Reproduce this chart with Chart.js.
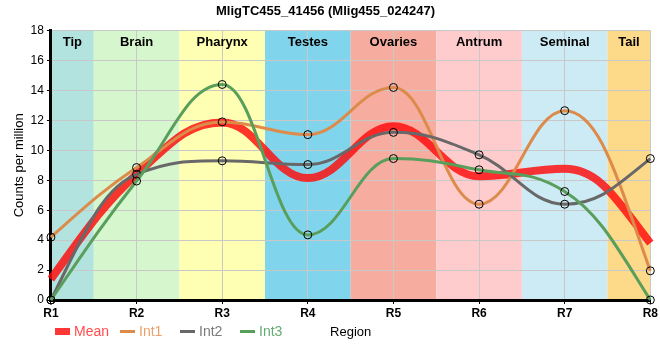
<!DOCTYPE html>
<html>
<head>
<meta charset="utf-8">
<script src="https://cdn.jsdelivr.net/npm/chart.js@4/dist/chart.umd.min.js"></script>
<style>
html,body{margin:0;padding:0;background:#fff;}
#wrap{position:relative;width:660px;height:360px;}
#legend{position:absolute;left:0;top:0;width:660px;height:360px;pointer-events:none;font-family:"Liberation Sans",Arial,sans-serif;font-size:14px;}
.it{position:absolute;top:322px;height:18px;display:flex;align-items:center;white-space:nowrap;}
.sw{display:inline-block;width:15px;margin-right:4px;}
</style>
</head>
<body>
<div id="wrap">
<canvas id="c" width="660" height="360"></canvas>
<div id="legend"></div>
</div>
<script>
const titleText = "MligTC455_41456 (Mlig455_024247)";
const xTitle = "Region";
const yTitle = "Counts per million";
const regions = ["R1","R2","R3","R4","R5","R6","R7","R8"];
const bandNames = ["Tip","Brain","Pharynx","Testes","Ovaries","Antrum","Seminal","Tail"];
const bandStart = [0, 0.5, 1.5, 2.5, 3.5, 4.5, 5.5, 6.5];
const bandEnd   = [0.5, 1.5, 2.5, 3.5, 4.5, 5.5, 6.5, 7];
const int1 = [4.2, 8.85, 11.9, 11.05, 14.2, 6.4, 12.65, 1.95];
const int2 = [0, 8.4, 9.3, 9.05, 11.2, 9.7, 6.4, 9.45];
const int3 = [0, 7.95, 14.4, 4.35, 9.45, 8.7, 7.25, 0];
const meanVals = int1.map((v,i)=> (v + int2[i] + int3[i]) / 3);
const yTicks = [0,2,4,6,8,10,12,14,16,18];

const bandColors = ["#b3e3df","#d6f6cd","#ffffb3","#80d5ec","#f6ac9f","#ffccce","#cdebf4","#fdd98a"];
const FONT = "'Liberation Sans', Arial, sans-serif";

const bandsPlugin = {
  id: 'bands',
  beforeDraw(chart) {
    const {ctx, chartArea, scales} = chart;
    ctx.save();
    for (let i = 0; i < bandNames.length; i++) {
      const x0 = scales.x.getPixelForValue(bandStart[i]);
      const x1 = scales.x.getPixelForValue(bandEnd[i]);
      ctx.fillStyle = bandColors[i];
      ctx.fillRect(x0, chartArea.top, x1 - x0, chartArea.bottom - chartArea.top);
    }
    ctx.restore();
  },
  beforeDatasetsDraw(chart) {
    const {ctx, chartArea, scales} = chart;
    ctx.save();
    ctx.fillStyle = "#000";
    ctx.font = "bold 13px " + FONT;
    ctx.textAlign = "center";
    ctx.textBaseline = "middle";
    for (let i = 0; i < bandNames.length; i++) {
      const x0 = scales.x.getPixelForValue(bandStart[i]);
      const x1 = scales.x.getPixelForValue(bandEnd[i]);
      ctx.fillText(bandNames[i], (x0 + x1) / 2, chartArea.top + 12);
    }
    ctx.restore();
  }
};

// Spline control points (smoothing 1.5, false-extreme prevention, Hermite-style ends)
const splinePlugin = {
  id: 'spline',
  beforeDatasetsDraw(chart) {
    chart.data.datasets.forEach((ds, di) => {
      const meta = chart.getDatasetMeta(di);
      if (!meta.dataset) return;
      meta.dataset.updateControlPoints(chart.chartArea, 'x');
      const pts = meta.data;
      const n = pts.length;
      const sm = 1.5, den = sm + 1, k = 1 / den;
      for (let i = 0; i < n; i++) {
        const p = pts[i];
        p.cp1x = p.x; p.cp1y = p.y; p.cp2x = p.x; p.cp2y = p.y;
        if (i === 0 || i === n - 1) continue;
        const l = pts[i-1], r = pts[i+1];
        let lx = (sm * p.x + l.x) / den, ly = (sm * p.y + l.y) / den;
        let rx = (sm * p.x + r.x) / den, ry = (sm * p.y + r.y) / den;
        let corr = 0;
        if (rx !== lx) corr = ((ry - ly) * (rx - p.x)) / (rx - lx) + p.y - ry;
        ly += corr; ry += corr;
        if (ly > l.y && ly > p.y) { ly = Math.max(l.y, p.y); ry = 2 * p.y - ly; }
        else if (ly < l.y && ly < p.y) { ly = Math.min(l.y, p.y); ry = 2 * p.y - ly; }
        if (ry > r.y && ry > p.y) { ry = Math.max(r.y, p.y); ly = 2 * p.y - ry; }
        else if (ry < r.y && ry < p.y) { ry = Math.min(r.y, p.y); ly = 2 * p.y - ry; }
        p.cp1x = lx; p.cp1y = ly; p.cp2x = rx; p.cp2y = ry;
      }
      if (n > 2) {
        const a = pts[0], b = pts[1];
        const dx = b.x - a.x;
        const sec = (b.y - a.y) / dx;
        const tb = (b.cp2y - b.cp1y) / (b.cp2x - b.cp1x);
        const ta = (3 * sec - tb) / 2;
        a.cp2x = a.x + k * dx; a.cp2y = a.y + ta * k * dx;
        const z = pts[n-1], y = pts[n-2];
        const dx2 = z.x - y.x;
        const sec2 = (z.y - y.y) / dx2;
        const ty = (y.cp2y - y.cp1y) / (y.cp2x - y.cp1x);
        const tz = (3 * sec2 - ty) / 2;
        z.cp1x = z.x - k * dx2; z.cp1y = z.y - tz * k * dx2;
      }
    });
  }
};

const series = [
  {label:"Mean", data:meanVals, color:"rgba(255,10,10,0.82)", text:"#ff4d4d", width:8, points:false},
  {label:"Int1", data:int1, color:"#dd8b4b", text:"#e9a06a", width:3, points:true},
  {label:"Int2", data:int2, color:"#686868", text:"#7a7a7a", width:3, points:true},
  {label:"Int3", data:int3, color:"#5a9e5c", text:"#66ab74", width:3, points:true}
];
const legendLeft = [55, 120, 180, 240];

const datasets = series.map(s => ({
  label: s.label,
  data: s.data,
  borderColor: s.color,
  backgroundColor: s.color,
  borderWidth: s.width,
  tension: 0.3,
  fill: false,
  pointRadius: s.points ? 4 : 0,
  pointHoverRadius: s.points ? 4 : 0,
  pointBorderColor: "#000",
  pointBackgroundColor: "rgba(0,0,0,0)",
  pointBorderWidth: 1,
  clip: false
})).reverse();

new Chart(document.getElementById('c'), {
  type: 'line',
  data: { labels: regions, datasets },
  options: {
    responsive: false,
    animation: false,
    layout: { padding: { left: 0, right: 9, top: 0, bottom: 0 } },
    plugins: {
      legend: { display: false },
      tooltip: { enabled: false },
      title: {
        display: true, text: titleText, color: "#000",
        font: { family: FONT, size: 13, weight: 'bold' },
        padding: { top: 4, bottom: 11 }
      }
    },
    scales: {
      x: {
        type: 'category',
        offset: false,
        grid: { color: "#c8c8c8", lineWidth: 1, tickColor: "#000", tickLength: 4 },
        border: { color: "#000", width: 3 },
        ticks: { color: "#000", font: { family: FONT, size: 12, weight: 'bold' }, padding: 2, maxRotation: 0, autoSkip: false },
        title: { display: true, text: xTitle, color: "#000", font: { family: FONT, size: 13 }, padding: { top: 2, bottom: 20 } }
      },
      y: {
        min: 0, max: 18,
        afterBuildTicks(scale) { scale.ticks = yTicks.map(v => ({value: v})); },
        grid: { color: "#c8c8c8", lineWidth: 1, tickColor: "#000", tickLength: 4 },
        border: { color: "#000", width: 3 },
        ticks: { color: "#000", font: { family: FONT, size: 12 }, padding: 3 },
        title: { display: true, text: yTitle, color: "#000", font: { family: FONT, size: 13 }, padding: { top: 12, bottom: 0 } }
      }
    }
  },
  plugins: [bandsPlugin, splinePlugin]
});

const leg = document.getElementById('legend');
series.forEach((s, i) => {
  const it = document.createElement('div');
  it.className = 'it';
  it.style.left = legendLeft[i] + 'px';
  const sw = document.createElement('span');
  sw.className = 'sw';
  sw.style.height = s.label === "Mean" ? "7px" : "3px";
  sw.style.background = s.color;
  const t = document.createElement('span');
  t.textContent = s.label;
  t.style.color = s.text;
  it.appendChild(sw); it.appendChild(t);
  leg.appendChild(it);
});
</script>
</body>
</html>
